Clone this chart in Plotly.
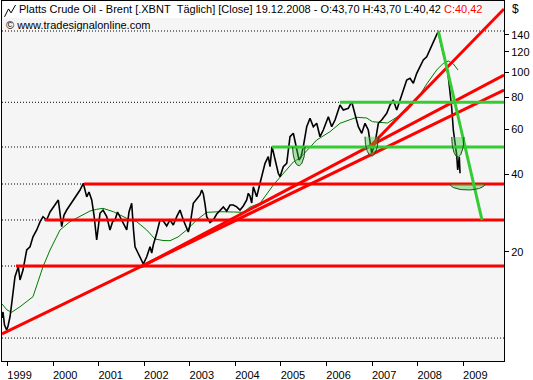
import numpy as np
import plotly.graph_objects as go

FONT = "Liberation Sans, Arial, sans-serif"

# ---- price series (decimal year, close in $) ----
years = [1998.878, 1998.900, 1998.933, 1998.981, 1999.010, 1999.054, 1999.087, 1999.126, 1999.163, 1999.236,
         1999.273, 1999.339, 1999.420, 1999.493, 1999.558, 1999.640, 1999.712, 1999.778, 1999.859, 1999.932,
         2000.004, 2000.063, 2000.114, 2000.188, 2000.239, 2000.298, 2000.370, 2000.443, 2000.517, 2000.590,
         2000.662, 2000.737, 2000.787, 2000.847, 2000.897, 2000.956, 2001.029, 2001.095, 2001.176, 2001.248,
         2001.303, 2001.358, 2001.413, 2001.468, 2001.533, 2001.615, 2001.665, 2001.724, 2001.764, 2001.797,
         2001.852, 2001.906, 2001.979, 2002.054, 2002.126, 2002.163, 2002.198, 2002.273, 2002.345, 2002.418,
         2002.492, 2002.565, 2002.637, 2002.712, 2002.784, 2002.857, 2002.931, 2002.966, 2003.004, 2003.076,
         2003.151, 2003.223, 2003.261, 2003.296, 2003.333, 2003.370, 2003.443, 2003.515, 2003.590, 2003.662,
         2003.735, 2003.809, 2003.882, 2003.954, 2004.029, 2004.101, 2004.173, 2004.248, 2004.283, 2004.320,
         2004.358, 2004.393, 2004.467, 2004.540, 2004.612, 2004.650, 2004.722, 2004.759, 2004.803, 2004.869,
         2004.941, 2004.979, 2005.051, 2005.126, 2005.198, 2005.271, 2005.345, 2005.396, 2005.440, 2005.490,
         2005.565, 2005.637, 2005.710, 2005.784, 2005.857, 2005.929, 2006.039, 2006.113, 2006.186, 2006.295,
         2006.368, 2006.478, 2006.552, 2006.625, 2006.697, 2006.772, 2006.844, 2006.916, 2006.991, 2007.063,
         2007.136, 2007.210, 2007.320, 2007.393, 2007.465, 2007.540, 2007.612, 2007.684, 2007.759, 2007.831,
         2007.904, 2007.979, 2008.051, 2008.123, 2008.198, 2008.270, 2008.343, 2008.380, 2008.453, 2008.490,
         2008.562, 2008.637, 2008.672, 2008.709, 2008.747, 2008.782, 2008.819, 2008.856, 2008.878, 2008.913,
         2008.929]
close = [11.04, 11.65, 10.36, 9.91, 10.27, 11.16, 12.40, 13.81, 15.98, 17.48,
         15.52, 16.97, 20.31, 20.91, 22.87, 24.30, 26.11, 27.38, 26.58, 28.55,
         29.90, 30.94, 31.80, 25.03, 27.79, 29.06, 30.40, 31.80, 32.95, 34.78,
         36.93, 32.70, 34.17, 31.80, 27.79, 22.21, 28.22, 29.06, 27.38, 24.30,
         26.11, 26.58, 28.55, 27.38, 26.11, 24.30, 28.55, 30.86, 24.30, 20.91,
         19.95, 18.99, 17.91, 19.11, 20.91, 19.77, 21.24, 23.59, 26.58, 26.34,
         25.18, 26.58, 25.41, 27.38, 29.06, 26.58, 24.74, 23.86, 25.41, 30.86,
         32.08, 33.27, 34.78, 33.57, 30.67, 27.38, 25.99, 26.58, 28.04, 29.06,
         29.86, 28.81, 30.40, 30.40, 29.90, 29.06, 30.13, 31.80, 33.76, 32.95,
         30.94, 35.82, 32.70, 36.93, 41.61, 44.18, 46.88, 42.86, 51.37, 45.51,
         40.40, 39.19, 42.86, 44.18, 56.09, 57.84, 49.78, 45.51, 46.77, 51.28,
         61.34, 66.15, 61.34, 63.25, 56.09, 59.55, 67.10, 61.34, 65.15, 74.53,
         71.26, 72.35, 76.77, 69.17, 61.34, 57.84, 63.25, 59.55, 48.32, 52.86,
         63.25, 65.15, 69.17, 74.53, 77.94, 71.26, 77.94, 85.27, 93.27, 94.70,
         90.55, 99.04, 105.07, 111.56, 114.90, 122.02, 129.56, 135.51, 144.69, 133.47,
         118.47, 105.07, 96.08, 85.27, 72.55, 59.55, 52.86, 47.48, 41.61, 46.77,
         40.42]

# ---- moving average (thin green) ----
ma_years = [1998.878, 1998.988, 1999.091, 1999.273, 1999.558, 1999.778, 1999.932, 2000.151, 2000.370, 2000.590,
            2000.809, 2000.956, 2001.095, 2001.321, 2001.615, 2001.834, 2002.054, 2002.236, 2002.411, 2002.565,
            2002.740, 2002.931, 2003.151, 2003.370, 2003.662, 2003.954, 2004.173, 2004.320, 2004.540, 2004.832,
            2005.126, 2005.271, 2005.417, 2005.784, 2006.076, 2006.295, 2006.662, 2006.881, 2007.007, 2007.337,
            2007.759, 2007.979, 2008.198, 2008.417, 2008.562, 2008.672, 2008.782, 2008.885]
ma_vals = [12.51, 11.86, 11.62, 12.21, 13.36, 17.48, 20.31, 24.30, 26.18, 27.38,
           28.81, 29.25, 29.51, 28.63, 26.98, 26.18, 24.30, 22.41, 22.11, 22.07,
           22.82, 24.30, 26.58, 28.47, 28.63, 28.55, 28.47, 29.86, 30.86, 36.37,
           41.61, 44.70, 46.34, 54.45, 58.67, 63.25, 66.75, 66.32, 64.16, 63.42,
           70.62, 77.94, 89.97, 102.02, 108.30, 110.57, 107.66, 102.02]

# ---- drawn objects ----
x_range = [1998.878, 2009.894]
y_ticks = [20, 40, 60, 80, 100, 120, 140]
year_ticks = list(range(1999, 2010))
year_labels = [str(y) for y in year_ticks]

dotted_levels = [144.7, 76.36, 51.14, 36.70, 26.58, 17.59, 9.22]
red_levels = [36.70, 26.58, 17.59]
red_starts = [2000.679, 1999.822, 1999.185]
green_levels = [76.36, 51.14]
green_starts = [2006.295, 2004.803]
red_trend_x0 = [1998.878, 2001.928, 2006.932]
red_trend_y0 = [9.56, 17.44, 50.91]
red_trend_x1 = [2009.894, 2009.894, 2009.894]
red_trend_y1 = [85.27, 97.55, 176.3]
green_trend_x = [2008.453, 2009.411]
green_trend_y = [144.69, 26.58]
# half-ellipse markers: left, right, top, bottom
ell_left = [2005.257, 2006.844, 2008.747, 2008.709]
ell_right = [2005.527, 2007.136, 2009.016, 2009.477]
ell_top = [51.14, 56.09, 55.95, 36.70]
ell_bottom = [43.25, 47.18, 46.77, 34.78]

RED = "#ff0000"
GREEN = "#33cc33"

fig = go.Figure()

fig.add_trace(go.Scatter(x=ma_years, y=ma_vals, mode="lines",
                         line=dict(color="#007a00", width=1), hoverinfo="skip"))
fig.add_trace(go.Scatter(x=years, y=close, mode="lines",
                         line=dict(color="black", width=1.6), hoverinfo="skip"))

for lvl, st in zip(red_levels, red_starts):
    fig.add_trace(go.Scatter(x=[st, x_range[1]], y=[lvl, lvl], mode="lines",
                             line=dict(color=RED, width=3)))
for x0, y0, x1, y1 in zip(red_trend_x0, red_trend_y0, red_trend_x1, red_trend_y1):
    fig.add_trace(go.Scatter(x=[x0, x1], y=[y0, y1], mode="lines",
                             line=dict(color=RED, width=3)))
for lvl, st in zip(green_levels, green_starts):
    fig.add_trace(go.Scatter(x=[st, x_range[1]], y=[lvl, lvl], mode="lines",
                             line=dict(color=GREEN, width=3)))
fig.add_trace(go.Scatter(x=green_trend_x, y=green_trend_y, mode="lines",
                         line=dict(color=GREEN, width=3)))

theta = np.linspace(0, np.pi, 40)
for l, r, t, b in zip(ell_left, ell_right, ell_top, ell_bottom):
    xc, rx = (l + r) / 2, (r - l) / 2
    lt, lb = np.log10(t), np.log10(b)
    ex = xc + rx * np.cos(theta)
    ey = 10 ** (lt - (lt - lb) * np.sin(theta))
    fig.add_trace(go.Scatter(x=list(ex) + [ex[0]], y=list(ey) + [ey[0]], mode="lines",
                             fill="toself", fillcolor="rgba(60,200,60,0.42)",
                             line=dict(width=0), hoverinfo="skip"))
    fig.add_trace(go.Scatter(x=ex, y=ey, mode="lines",
                             line=dict(color="#1f4a1f", width=1), hoverinfo="skip"))

for lvl in dotted_levels:
    fig.add_shape(type="line", xref="x", yref="y", x0=x_range[0], x1=x_range[1], y0=lvl, y1=lvl,
                  line=dict(color="black", width=1, dash="1px,2px"), layer="below")

# title box and icon
fig.add_shape(type="rect", xref="paper", yref="paper", x0=0.002, x1=0.954, y0=0.953, y1=1.0,
              fillcolor="white", line=dict(width=0), layer="above")
fig.add_shape(type="path", xref="paper", yref="paper",
              path="M 0.0050,0.9560 L 0.0130,0.9780 L 0.0180,0.9670 L 0.0270,0.9890",
              line=dict(color="black", width=1), layer="above")

fig.add_annotation(xref="paper", yref="paper", x=0.030, y=0.978, xanchor="left", yanchor="middle",
                   showarrow=False, font=dict(family=FONT, size=11, color="black"),
                   text="Platts Crude Oil - Brent [.XBNT&nbsp;&nbsp;Täglich] [Close] 19.12.2008 - O:43,70 H:43,70 L:40,42 "
                        "<span style='color:#ff0000'>C:40,42</span>")
fig.add_annotation(xref="paper", yref="paper", x=0.004, y=0.933, xanchor="left", yanchor="middle",
                   showarrow=False, font=dict(family=FONT, size=11, color="black"),
                   text="© www.tradesignalonline.com")
fig.add_annotation(xref="paper", yref="paper", x=1.0, y=0.978, xanchor="left", yanchor="middle",
                   xshift=6, showarrow=False, font=dict(family=FONT, size=12, color="black"), text="$")

fig.update_layout(
    width=533, height=380,
    margin=dict(l=2, r=29, t=1, b=19),
    paper_bgcolor="white", plot_bgcolor="#f5f5f5",
    showlegend=False,
    xaxis=dict(range=x_range, tickvals=year_ticks, ticktext=year_labels, ticks="outside", ticklen=4,
               tickcolor="black", showgrid=False, zeroline=False, showline=True, linecolor="black",
               linewidth=1, mirror=True, ticklabelshift=12, automargin=False,
               tickfont=dict(family=FONT, size=11, color="black")),
    yaxis=dict(type="log", range=[0.8754, 2.2773], side="right", tickvals=y_ticks,
               ticktext=[str(v) for v in y_ticks], ticks="outside", ticklen=4, tickcolor="black",
               showgrid=False, zeroline=False, showline=True, linecolor="black", linewidth=1,
               mirror=True, automargin=False, tickfont=dict(family=FONT, size=11, color="black")),
)

fig.write_html("out.html", config={"displayModeBar": False},
               post_script="document.body.style.margin='0px';document.body.style.overflow='hidden';")
